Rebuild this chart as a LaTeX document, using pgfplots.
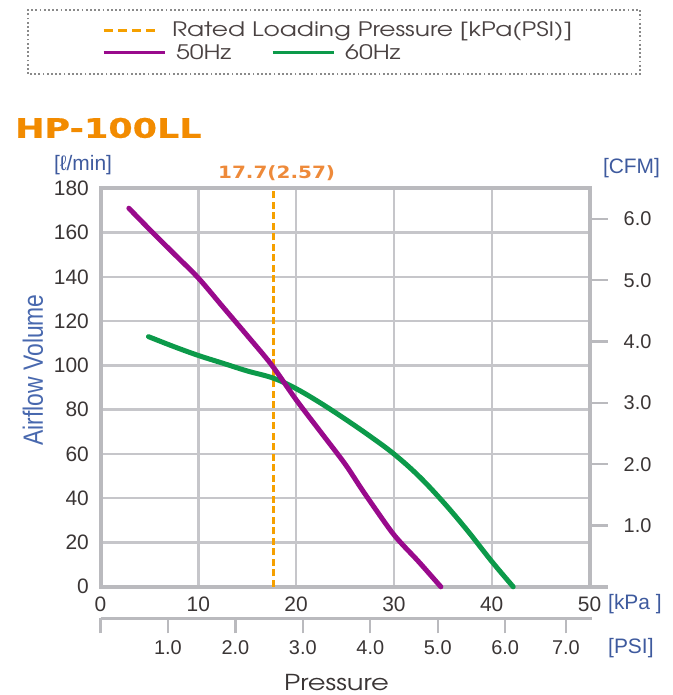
\documentclass[border=0pt]{standalone}
\usepackage{fontspec}
\setmainfont{Liberation Sans}
\newfontfamily\gothic[FakeStretch=1.25]{TeX Gyre Adventor}
\newfontfamily\heavy[FakeStretch=1.3, FakeBold=0.6]{DejaVu Sans Bold}
\newfontfamily\heavylabel[FakeStretch=1.18]{DejaVu Sans Bold}
\newfontfamily\narrow[FakeStretch=0.82]{Liberation Sans}
\usepackage{pgfplots}
\pgfplotsset{compat=1.18}

\definecolor{gridgray}{HTML}{C6C6CA}
\definecolor{framegray}{HTML}{BABABE}
\definecolor{ticktext}{HTML}{3A3535}
\definecolor{unitblue}{HTML}{3E5A9E}
\definecolor{labelblue}{HTML}{4868AE}
\definecolor{hz50}{HTML}{990A8C}
\definecolor{hz60}{HTML}{0C9A4A}
\definecolor{rated}{HTML}{F5A000}
\definecolor{titleorange}{HTML}{F28B00}
\definecolor{ratedtext}{HTML}{EE8A3A}
\definecolor{legtext}{HTML}{4A4242}

\pgfplotsset{
  ticknum/.style={font=\fontsize{21}{24}\selectfont, text=ticktext, inner sep=0pt},
}

\begin{document}
\begin{tikzpicture}[x=1bp,y=1bp]
\path[use as bounding box] (0,0) rectangle (673,695);

% legend frame
\draw[color={rgb,255:red,138;green,138;blue,138}, line width=1.8bp, dash pattern=on 1.8bp off 2.4bp]
  (28,621) rectangle (640,685);

% main axis, l/min against kPa
\begin{axis}[
  at={(100.5bp,108.2bp)}, anchor=south west,
  scale only axis, width=489bp, height=398.5bp,
  xmin=0, xmax=50, ymin=0, ymax=180,
  xtick={0,10,...,50}, ytick={0,20,...,180},
  grid=major,
  major grid style={gridgray, line width=2.4bp},
  axis line style={framegray, line width=4bp},
  major tick length=0pt,
  tick style={draw=none},
  /pgf/number format/assume math mode=true,
  ticklabel style={ticknum},
  xticklabel style={yshift=-9.7bp},
  yticklabel style={xshift=-11.5bp},
  clip=false,
  legend columns=2,
  legend cell align=left,
  legend image code/.code={\draw[#1, line width=3bp] (0bp,0bp) -- (61bp,0bp);},
  legend style={draw=none, fill=none, at={(0.0031,1.3395)}, anchor=west,
    inner sep=0pt, outer sep=0pt,
    font=\gothic\fontsize{20}{24}\selectfont, text=legtext,
    nodes={inner sep=0pt}, column sep=10bp,
    /tikz/every even column/.append style={column sep=40bp}},
]
\addlegendimage{hz50}\addlegendentry{50Hz}
\addlegendimage{hz60}\addlegendentry{60Hz}

\addplot[rated, line width=3bp, dash pattern=on 7bp off 3.5bp, forget plot]
  coordinates {(17.7,0) (17.7,180)};

\addplot[hz60, line width=5bp, line cap=round, smooth, tension=0.6, forget plot] coordinates {
  (4.9,113) (7.5,108.5) (10,104.5) (12.5,101) (15,97.5) (17.7,94.2) (20,89.5)
  (22.5,83) (25,75.8) (27.5,68.2) (30,60) (32.5,50.2) (35,38.5) (37.5,25.5)
  (40,11.5) (42.2,0)
};
\addplot[hz50, line width=5bp, line cap=round, smooth, tension=0.5, forget plot] coordinates {
  (2.9,171) (5,161.5) (7.5,150.5) (10,139.5) (12.5,126.5) (15,113.5) (17.5,100.2)
  (20,84.5) (22.5,70) (25,55.5) (26.8,43.5) (29,29.5) (30,23.5) (31,18.5)
  (32.5,11.5) (34.8,0)
};

\draw[framegray, line width=4bp] (axis cs:50,0) -- ++(18bp,0);
\node[anchor=base, text=ratedtext, font=\heavylabel\fontsize{17}{20}\selectfont]
  at (axis cs:17.7,180) [xshift=3bp, yshift=10bp] {17.7(2.57)};
\end{axis}

% right axis, CFM
\begin{axis}[
  at={(100.5bp,108.2bp)}, anchor=south west,
  scale only axis, width=489bp, height=398.5bp,
  xmin=0, xmax=50, ymin=0, ymax=6.5,
  hide x axis,
  axis y line*=right,
  axis line style={draw=none},
  ytick={1,2,...,6},
  yticklabels={1.0,2.0,3.0,4.0,5.0,6.0},
  tick align=outside,
  major tick length=18bp,
  tick style={framegray, line width=2.4bp},
  yticklabel style={ticknum, font=\fontsize{20}{24}\selectfont, xshift=16bp},
  legend image code/.code={\draw[#1] (0bp,0bp) -- (52bp,0bp);},
  legend style={draw=none, fill=none, at={(0.0031,1.3972)}, anchor=west,
    inner sep=0pt, outer sep=0pt,
    font=\gothic\fontsize{20}{24}\selectfont, text=legtext,
    nodes={inner sep=0pt}, column sep=15bp},
]
\addlegendimage{rated, line width=3bp, dash pattern=on 9bp off 5.3bp}
\addlegendentry{Rated Loading Pressure [kPa(PSI)]}
\end{axis}

% lower axis, PSI
\begin{axis}[
  at={(100.5bp,76.7bp)}, anchor=south west,
  scale only axis, width=491bp, height=10bp,
  xmin=0, xmax=7.28, ymin=0, ymax=1,
  hide y axis,
  axis x line*=bottom,
  axis line style={framegray, line width=3bp},
  xtick={0,1,2,3,4,5,6,6.9},
  xticklabels={,1.0,2.0,3.0,4.0,5.0,6.0,7.0},
  tick align=outside,
  major tick length=15bp,
  tick style={framegray, line width=2.4bp},
  xticklabel style={ticknum, font=\fontsize{20}{24}\selectfont, yshift=-7bp},
]
\end{axis}

% titles and units
\node[anchor=west, text=titleorange, font=\heavy\fontsize{27}{30}\selectfont, inner sep=0pt]
  at (15,567) {HP-100LL};
\node[text=unitblue, font=\fontsize{21}{24}\selectfont, inner sep=0pt] at (83,530) {[ℓ/min]};
\node[text=unitblue, font=\fontsize{21}{24}\selectfont, inner sep=0pt] at (631.5,527) {[CFM]};
\node[anchor=west, text=unitblue, font=\fontsize{21}{24}\selectfont, inner sep=0pt] at (608,91) {[kPa ]};
\node[anchor=west, text=unitblue, font=\fontsize{21}{24}\selectfont, inner sep=0pt] at (608,47) {[PSI]};
\node[rotate=90, text=labelblue, font=\narrow\fontsize{28}{30}\selectfont, inner sep=0pt] at (33,325) {Airflow Volume};
\node[text=ticktext, font=\gothic\fontsize{22}{26}\selectfont, inner sep=0pt] at (336.5,12) {Pressure};
\end{tikzpicture}
\end{document}
